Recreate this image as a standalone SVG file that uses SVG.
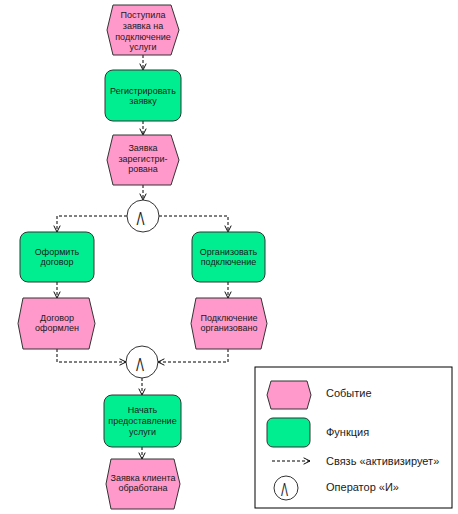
<svg xmlns="http://www.w3.org/2000/svg" width="458" height="514" viewBox="0 0 458 514">
<defs>
<style>
.ev{fill:#ff99cc;stroke:#333;stroke-width:1}
.fn{fill:#00ee90;stroke:#333;stroke-width:1}
.op{fill:#fff;stroke:#333;stroke-width:1}
.t{font-family:"Liberation Sans",Arial,sans-serif;font-size:9px;fill:#1a1a1a;text-anchor:middle}
.lt{font-family:"Liberation Sans",Arial,sans-serif;font-size:11px;fill:#1a1a1a}
.sym{font-family:"Liberation Sans",Arial,sans-serif;font-size:19px;fill:#1a1a1a;text-anchor:middle}
.c{fill:none;stroke:#000;stroke-width:1;stroke-dasharray:3,2}
</style>
<marker id="ar" viewBox="0 0 10 10" refX="9" refY="5" markerWidth="8" markerHeight="8" markerUnits="userSpaceOnUse" orient="auto">
<polyline points="1,1 9,5 1,9" fill="none" stroke="#000" stroke-width="1.2"/>
</marker>
</defs>
<rect width="458" height="514" fill="#fff"/>
<g id="connectors">
<path class="c" d="M143,55 V70" marker-end="url(#ar)"/>
<path class="c" d="M143,121 V135" marker-end="url(#ar)"/>
<path class="c" d="M143,185 V200" marker-end="url(#ar)"/>
<path class="c" d="M127,216 H57 V232" marker-end="url(#ar)"/>
<path class="c" d="M159,216 H228 V232" marker-end="url(#ar)"/>
<path class="c" d="M57,282 V298" marker-end="url(#ar)"/>
<path class="c" d="M228,282 V298" marker-end="url(#ar)"/>
<path class="c" d="M57,349 V362 H126" marker-end="url(#ar)"/>
<path class="c" d="M228,349 V362 H158" marker-end="url(#ar)"/>
<path class="c" d="M142,378 V395" marker-end="url(#ar)"/>
<path class="c" d="M142,447 V459" marker-end="url(#ar)"/>
</g>
<g id="ev1">
<polygon class="ev" points="113,5 171,5 179,30 171,55 113,55 107,30"/>
<text class="t" x="143" y="18">Поступила</text>
<text class="t" x="143" y="29">заявка на</text>
<text class="t" x="143" y="39.5">подключение</text>
<text class="t" x="143" y="50">услуги</text>
</g>
<g id="fn1">
<rect class="fn" x="105" y="70" width="76" height="51" rx="8"/>
<text class="t" x="143" y="94">Регистрировать</text>
<text class="t" x="143" y="104">заявку</text>
</g>
<g id="ev2">
<polygon class="ev" points="113,135 171,135 179,160 171,185 113,185 107,160"/>
<text class="t" x="143" y="151">Заявка</text>
<text class="t" x="143" y="161.5">зарегистри-</text>
<text class="t" x="143" y="172">рована</text>
</g>
<g id="op1">
<circle class="op" cx="143" cy="216" r="16"/>
<text class="sym" x="140.5" y="225" textLength="8" lengthAdjust="spacingAndGlyphs">Λ</text>
</g>
<g id="fn2">
<rect class="fn" x="20" y="232" width="74" height="50" rx="8"/>
<text class="t" x="57" y="255">Оформить</text>
<text class="t" x="57" y="265">договор</text>
</g>
<g id="fn3">
<rect class="fn" x="192" y="232" width="73" height="50" rx="8"/>
<text class="t" x="228.5" y="255">Организовать</text>
<text class="t" x="228.5" y="265">подключение</text>
</g>
<g id="ev3">
<polygon class="ev" points="23,298 89,298 95,323.5 89,349 23,349 18,323.5"/>
<text class="t" x="57" y="321">Договор</text>
<text class="t" x="57" y="330.5">оформлен</text>
</g>
<g id="ev4">
<polygon class="ev" points="196,298 261,298 267,323.5 261,349 196,349 191,323.5"/>
<text class="t" x="229" y="321">Подключение</text>
<text class="t" x="229" y="330.5">организовано</text>
</g>
<g id="op2">
<circle class="op" cx="142" cy="362" r="16"/>
<text class="sym" x="140" y="371" textLength="8" lengthAdjust="spacingAndGlyphs">Λ</text>
</g>
<g id="fn4">
<rect class="fn" x="104" y="395" width="77" height="52" rx="8"/>
<text class="t" x="142.5" y="413">Начать</text>
<text class="t" x="142.5" y="424">предоставление</text>
<text class="t" x="142.5" y="434.5">услуги</text>
</g>
<g id="ev5">
<polygon class="ev" points="111,459 174,459 180,484 174,509 111,509 106,484"/>
<text class="t" x="143" y="481">Заявка клиента</text>
<text class="t" x="143" y="491">обработана</text>
</g>
<g id="legend">
<rect x="255" y="367" width="197" height="141" fill="#fff" stroke="#000" stroke-width="1"/>
<polygon class="ev" points="271,381 307,381 311,395 307,409 271,409 267,395"/>
<text class="lt" x="326" y="397">Событие</text>
<rect class="fn" x="267" y="418" width="43" height="29" rx="6"/>
<text class="lt" x="326" y="436">Функция</text>
<path class="c" d="M272,461 H310" marker-end="url(#ar)"/>
<text class="lt" x="326" y="465">Связь «активизирует»</text>
<circle class="op" cx="286" cy="488" r="12"/>
<text class="sym" x="284.5" y="496" font-size="16" textLength="7" lengthAdjust="spacingAndGlyphs">Λ</text>
<text class="lt" x="326" y="491">Оператор «И»</text>
</g>
</svg>
